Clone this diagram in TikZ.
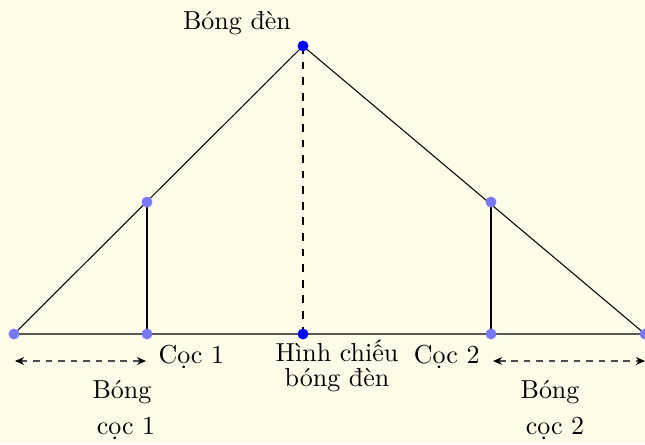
\documentclass[tikz,border=0pt]{standalone}
\usepackage{fontspec}
\usetikzlibrary{arrows.meta}
\definecolor{bgcol}{RGB}{254,252,233}
\definecolor{lightdot}{RGB}{120,120,250}
\begin{document}
\begin{tikzpicture}[x=0.385pt,y=-0.385pt,
  dot/.style={circle,fill=blue,inner sep=0pt,minimum size=4.2pt},
  ldot/.style={circle,fill=lightdot,inner sep=0pt,minimum size=4.2pt},
  lbl/.style={inner sep=0pt,font=\normalsize},
  edge/.style={line width=0.4pt},
  meas/.style={draw=black!70,dashed,dash pattern=on 2.6pt off 2.2pt,{Stealth[length=3.5pt,width=3pt,black]}-{Stealth[length=3.5pt,width=3pt,black]}}]
\fill[bgcol] (0,0) rectangle (645,444);
\useasboundingbox (0,0) rectangle (645,444);
\coordinate (A) at (14,334);
\coordinate (C1) at (147,334);
\coordinate (T1) at (147,202);
\coordinate (L) at (303,46);
\coordinate (H) at (303,334);
\coordinate (C2) at (491,334);
\coordinate (T2) at (491,202);
\coordinate (B) at (645,334);
\draw[edge] (A) -- (L) -- (B) -- cycle;
\draw[edge] (C1) -- (T1);
\draw[edge] (C2) -- (T2);
\draw[edge,dashed] (L) -- (H);
\node[ldot] (dA) at (A) {};
\node[ldot] (dC1) at (C1) {};
\node[ldot] (dT1) at (T1) {};
\node[ldot] (dC2) at (C2) {};
\node[ldot] (dT2) at (T2) {};
\node[ldot] (dB) at (B) {};
\node[dot] (dL) at (L) {};
\node[dot] (dH) at (H) {};
\coordinate (a1) at (15,361);
\coordinate (a2) at (146,361);
\coordinate (b1) at (493,361);
\coordinate (b2) at (645,361);
\draw[meas] (a1) -- (a2);
\draw[meas] (b1) -- (b2);
\node[lbl] (lamp) at (237,23) {Bóng đèn};
\node[lbl,anchor=west] (coc1) at (158,357) {Cọc 1};
\node[lbl,anchor=east] (coc2) at (480,357) {Cọc 2};
\node[lbl,align=center] (proj) at (337,366) {Hình chiếu\\[-2.5pt]bóng đèn};
\node[lbl] (bong1) at (122,392) {Bóng};
\node[lbl] (cc1) at (126,428) {cọc 1};
\node[lbl] (bong2) at (550,392) {Bóng};
\node[lbl] (cc2) at (555,428) {cọc 2};
\end{tikzpicture}
\end{document}
